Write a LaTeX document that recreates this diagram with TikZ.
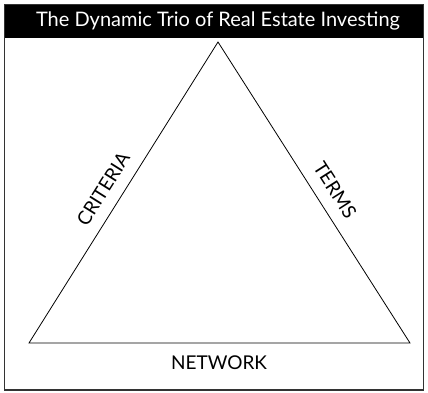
\documentclass[tikz,border=0pt]{standalone}
\usepackage{fontspec}
\setmainfont{Lato}
\begin{document}
\begin{tikzpicture}[x=1pt,y=1pt,
  frame/.style={draw=black!80, line width=1.2pt},
  tri/.style={draw=black, line width=0.8pt, line join=miter},
  lab/.style={font=\fontsize{19}{22}\selectfont, inner sep=0pt}]
\useasboundingbox (0,0) rectangle (428,392);
\fill[black] (4.5,387.5) rectangle (423.5,354.5);
\draw[frame] (4.5,2) rectangle (423.5,387.5);
\node[font=\fontsize{20}{24}\selectfont, text=white, inner sep=0pt] (title) at (218,371) {The Dynamic Trio of Real Estate Investing};
\coordinate (A) at (218,350);
\coordinate (L) at (29,49);
\coordinate (R) at (410,49);
\draw[tri] (A) -- (L) -- (R) -- cycle;
\node[lab] (net) at (219,29) {NETWORK};
\path (L) -- (A) node[lab, pos=0.478, sloped, above=12pt, inner sep=0pt] (crit) {CRITERIA};
\path (A) -- (R) node[lab, pos=0.526, sloped, above=12pt, inner sep=0pt] (terms) {TERMS};
\end{tikzpicture}
\end{document}
